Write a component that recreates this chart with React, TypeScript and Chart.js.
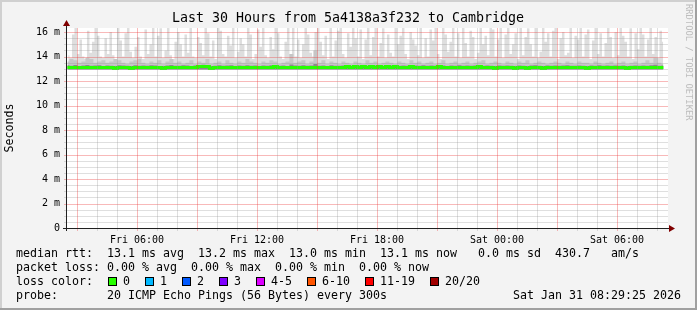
import React, { useEffect, useRef } from 'react';
import { Chart, registerables } from 'chart.js';

Chart.register(...registerables);

const TITLE = 'Last 30 Hours from 5a4138a3f232 to Cambridge';
const Y_AXIS_TITLE = 'Seconds';
const WATERMARK = 'RRDTOOL / TOBI OETIKER';

// time axis (hours since Fri 00:00)
const X_MIN = 2.5;
const X_MAX = 32.5;
const SMOKE_START_HOUR = 2.56;
const SMOKE_STEP_HOURS = 0.125;
const BAND_START_HOUR = 2.52;
const BAND_STEP_HOURS = 0.2;
const X_GRID_HOURS = [3, 4, 5, 6, 7, 8, 9, 10, 11, 12, 13, 14, 15, 16, 17, 18, 19, 20, 21, 22, 23, 24, 25, 26, 27, 28, 29, 30, 31, 32];
const X_MAJOR_EVERY = 3;
const X_LABEL_HOURS = [6, 12, 18, 24, 30];
const X_TICK_LABELS = ['Fri 06:00', 'Fri 12:00', 'Fri 18:00', 'Sat 00:00', 'Sat 06:00'];

// value axis (milliseconds)
const Y_MIN = 0;
const Y_MAX = 16.33;
const Y_MAJOR_VALUES = [0, 2, 4, 6, 8, 10, 12, 14, 16];
const Y_TICK_LABELS = ['0', '2 m', '4 m', '6 m', '8 m', '10 m', '12 m', '14 m', '16 m'];
const Y_MINOR_STEP = 0.5;

const SMOKE_FLOOR = 12.95;

// upper edge of the light smoke (ms), one value per 7.5 minutes
const SMOKE_HIGH = [
  14.1, 13.9, 15.8, 16.5, 14.2, 15.4, 14.0, 13.8, 16.1, 14.3,
  15.2, 16.5, 15.7, 14.0, 13.9, 15.5, 14.2, 16.0, 14.1, 13.8,
  16.5, 15.3, 14.0, 15.9, 16.5, 14.4, 13.9, 14.8, 15.6, 14.0,
  13.8, 16.2, 14.2, 15.0, 16.5, 14.0, 15.7, 16.3, 13.9, 14.5,
  16.5, 14.1, 13.8, 15.2, 16.0, 15.0, 14.0, 15.8, 14.3, 16.5,
  14.0, 13.9, 15.6, 15.1, 14.1, 16.5, 15.9, 14.0, 15.3, 13.8,
  16.5, 16.1, 14.2, 14.0, 15.7, 14.9, 16.5, 13.9, 14.4, 15.5,
  15.0, 14.0, 16.5, 15.8, 13.8, 14.2, 16.2, 14.8, 16.5, 14.1,
  13.9, 15.6, 14.6, 16.5, 15.9, 14.0, 13.8, 15.2, 16.4, 14.2,
  16.5, 14.0, 15.4, 13.9, 15.0, 16.5, 15.8, 14.3, 14.0, 16.0,
  16.5, 15.2, 14.1, 15.7, 13.8, 16.5, 14.0, 15.3, 16.1, 16.5,
  14.2, 13.9, 15.9, 14.8, 16.5, 15.5, 14.0, 16.2, 13.8, 15.4,
  16.5, 14.1, 15.6, 16.5, 14.0, 15.1, 16.3, 13.9, 15.8, 14.3,
  14.0, 16.5, 15.0, 15.7, 16.5, 14.2, 13.8, 16.0, 15.4, 14.9,
  14.1, 16.5, 13.9, 15.5, 14.0, 16.2, 15.3, 16.5, 14.2, 13.8,
  16.4, 15.8, 14.4, 15.2, 16.5, 14.0, 15.9, 13.9, 16.5, 15.1,
  14.0, 16.1, 15.6, 13.8, 14.3, 16.5, 15.0, 15.7, 14.1, 16.5,
  16.2, 14.0, 15.4, 16.5, 13.9, 15.8, 16.5, 14.2, 15.0, 15.9,
  13.8, 16.5, 14.1, 15.6, 16.3, 15.0, 14.0, 16.5, 13.9, 14.4,
  16.5, 15.2, 15.9, 14.0, 16.1, 16.5, 13.8, 15.5, 16.0, 14.1,
  14.3, 16.5, 13.9, 15.7, 15.4, 16.5, 14.0, 15.8, 16.2, 13.8,
  15.3, 16.5, 14.2, 15.9, 14.0, 15.1, 16.5, 15.6, 13.9, 16.0,
  14.1, 16.5, 15.7, 15.2, 14.0, 16.3, 13.8, 15.9, 14.6, 16.5,
  15.8, 14.0, 15.4, 16.5, 14.2, 15.6, 13.9, 16.1, 15.2,
];

// upper edge of the medium smoke (ms), one value per 12 minutes
const SMOKE_MID = [
  13.6, 13.8, 13.7, 13.5, 13.6, 13.9, 13.8, 13.5, 13.6, 13.7,
  13.5, 13.6, 13.8, 13.7, 13.5, 13.4, 13.6, 13.7, 13.8, 13.5,
  13.4, 13.6, 13.5, 13.7, 13.4, 13.6, 13.8, 13.5, 13.6, 13.4,
  13.5, 13.7, 13.4, 13.6, 13.5, 13.8, 13.4, 13.5, 13.6, 13.4,
  13.7, 13.5, 13.4, 13.6, 13.5, 13.8, 13.6, 13.5, 13.4, 13.6,
  13.5, 13.7, 13.6, 13.4, 13.5, 13.6, 14.2, 13.5, 13.6, 13.7,
  13.4, 13.6, 14.5, 13.5, 13.7, 13.4, 13.6, 13.5, 13.4, 13.6,
  13.5, 13.4, 13.6, 13.5, 13.4, 13.7, 13.5, 13.6, 13.4, 13.5,
  13.6, 13.5, 13.4, 13.6, 13.5, 13.4, 13.7, 13.5, 13.6, 13.4,
  13.5, 13.6, 13.4, 13.5, 13.7, 13.4, 13.5, 13.6, 13.4, 13.5,
  13.6, 13.4, 13.5, 13.6, 13.7, 13.4, 13.5, 13.6, 13.5, 13.4,
  13.6, 13.5, 13.4, 13.6, 13.5, 13.7, 13.4, 13.5, 13.6, 13.5,
  13.4, 13.5, 13.6, 13.5, 13.4, 13.6, 13.5, 13.4, 13.6, 13.5,
  13.5, 13.4, 13.6, 13.5, 13.4, 13.5, 13.6, 13.4, 13.5, 13.6,
  13.4, 13.5, 13.6, 13.4, 13.5, 13.7, 13.5, 13.9, 13.5, 13.4,
];

const SMOKE_DARK = [
  13.28, 13.25, 13.3, 13.22, 13.27, 13.3, 13.24, 13.26, 13.29, 13.23,
  13.27, 13.25, 13.22, 13.28, 13.26, 13.24, 13.22, 13.29, 13.25, 13.27,
  13.24, 13.28, 13.26, 13.23, 13.22, 13.27, 13.3, 13.25, 13.24, 13.28,
  13.26, 13.23, 13.27, 13.3, 13.32, 13.3, 13.22, 13.25, 13.28, 13.24,
  13.26, 13.29, 13.23, 13.27, 13.25, 13.28, 13.24, 13.26, 13.22, 13.27,
  13.25, 13.28, 13.31, 13.24, 13.26, 13.23, 13.35, 13.27, 13.25, 13.28,
  13.24, 13.26, 13.4, 13.25, 13.27, 13.23, 13.28, 13.25, 13.24, 13.26,
  13.31, 13.25, 13.3, 13.27, 13.31, 13.25, 13.3, 13.26, 13.31, 13.24,
  13.3, 13.26, 13.31, 13.25, 13.27, 13.24, 13.3, 13.26, 13.25, 13.28,
  13.24, 13.27, 13.25, 13.3, 13.26, 13.23, 13.27, 13.25, 13.28, 13.24,
  13.26, 13.25, 13.27, 13.3, 13.24, 13.26, 13.25, 13.22, 13.27, 13.25,
  13.26, 13.24, 13.22, 13.27, 13.25, 13.22, 13.26, 13.28, 13.24, 13.22,
  13.26, 13.25, 13.27, 13.24, 13.26, 13.28, 13.25, 13.24, 13.27, 13.25,
  13.22, 13.26, 13.25, 13.28, 13.24, 13.26, 13.25, 13.27, 13.24, 13.26,
  13.22, 13.25, 13.27, 13.24, 13.26, 13.25, 13.28, 13.33, 13.25, 13.26,
];

const MEDIAN = [
  13.1, 13.1, 13.1, 13.1, 13.1, 13.1, 13.1, 13.1, 13.1, 13.1,
  13.1, 13.1, 13.02, 13.1, 13.1, 13.1, 13.02, 13.1, 13.1, 13.1,
  13.1, 13.1, 13.1, 13.1, 13.02, 13.1, 13.1, 13.1, 13.1, 13.1,
  13.1, 13.1, 13.1, 13.18, 13.18, 13.18, 13.02, 13.1, 13.1, 13.1,
  13.1, 13.1, 13.1, 13.1, 13.1, 13.1, 13.1, 13.1, 13.1, 13.1,
  13.1, 13.1, 13.18, 13.1, 13.1, 13.1, 13.1, 13.1, 13.1, 13.1,
  13.1, 13.1, 13.1, 13.1, 13.1, 13.1, 13.1, 13.1, 13.1, 13.1,
  13.18, 13.1, 13.18, 13.1, 13.18, 13.1, 13.18, 13.1, 13.18, 13.1,
  13.18, 13.1, 13.18, 13.1, 13.1, 13.1, 13.18, 13.1, 13.1, 13.1,
  13.1, 13.1, 13.1, 13.18, 13.1, 13.1, 13.1, 13.1, 13.1, 13.1,
  13.1, 13.1, 13.1, 13.18, 13.1, 13.1, 13.1, 13.02, 13.1, 13.1,
  13.1, 13.1, 13.02, 13.1, 13.1, 13.02, 13.1, 13.1, 13.1, 13.02,
  13.1, 13.1, 13.1, 13.1, 13.1, 13.1, 13.1, 13.1, 13.1, 13.1,
  13.02, 13.1, 13.1, 13.1, 13.1, 13.1, 13.1, 13.1, 13.1, 13.1,
  13.02, 13.1, 13.1, 13.1, 13.1, 13.1, 13.1, 13.1, 13.1, 13.1,
];

// legend
const RTT_LABEL = 'median rtt:';
const RTT_STATS = ['13.1 ms avg', '13.2 ms max', '13.0 ms min', '13.1 ms now', '0.0 ms sd', '430.7', 'am/s'];
const LOSS_LABEL = 'packet loss:';
const LOSS_STATS = ['0.00 % avg', '0.00 % max', '0.00 % min', '0.00 % now'];
const LOSS_COLOR_LABEL = 'loss color:';
const LOSS_LABELS = ['0', '1', '2', '3', '4-5', '6-10', '11-19', '20/20'];
const LOSS_COLORS = ['#26ff00', '#00b8ff', '#0059ff', '#7e00ff', '#dd00ff', '#ff5500', '#ff0000', '#a10000'];
const PROBE_LABEL = 'probe:';
const PROBE_TEXT = '20 ICMP Echo Pings (56 Bytes) every 300s';
const DATE_TEXT = 'Sat Jan 31 08:29:25 2026';

const MONO = '"DejaVu Sans Mono", monospace';
const GRID = 'rgba(150,150,150,0.3)';
const MGRID = 'rgba(235,60,60,0.36)';

function toPoints(values: number[], start: number, step: number) {
  return values.map((v, i) => ({ x: start + i * step, y: v }));
}

function yGridValues() {
  const t: number[] = [];
  const top = Y_MAJOR_VALUES[Y_MAJOR_VALUES.length - 1];
  for (let v = Y_MIN; v <= top + 1e-9; v += Y_MINOR_STEP) t.push(v);
  return t;
}

const decorPlugin = {
  id: 'decor',
  beforeDraw(chart: any) {
    const ctx = chart.ctx;
    const W = chart.width;
    const H = chart.height;
    const a = chart.chartArea;
    const L = Math.round(a.left), R = Math.round(a.right), T = Math.round(a.top), B = Math.round(a.bottom);
    ctx.save();
    ctx.fillStyle = '#f3f3f3';
    ctx.fillRect(0, 0, W, H);
    ctx.fillStyle = '#d0d0d0';
    ctx.fillRect(0, 0, W, 2);
    ctx.fillRect(0, 0, 2, H);
    ctx.fillStyle = '#a0a0a0';
    ctx.fillRect(0, H - 2, W, 2);
    ctx.fillRect(W - 2, 0, 2, H);
    ctx.fillStyle = '#ffffff';
    ctx.fillRect(L, T, R - L + 1, B - T);
    ctx.restore();
  },
  afterDatasetsDraw(chart: any) {
    // grid on top of the smoke, positioned through the chart's scales
    const ctx = chart.ctx;
    const a = chart.chartArea;
    const L = Math.round(a.left), R = Math.round(a.right), T = Math.round(a.top), B = Math.round(a.bottom);
    const xs = chart.scales.x;
    const ys = chart.scales.y;
    ctx.save();
    yGridValues().forEach((v) => {
      if (v === Y_MIN) return;
      const row = Math.round(ys.getPixelForValue(v));
      ctx.fillStyle = Y_MAJOR_VALUES.includes(v) ? MGRID : GRID;
      ctx.fillRect(L, row, R - L + 1, 1);
      ctx.fillRect(L - 3, row, 2, 1);
    });
    X_GRID_HOURS.forEach((h) => {
      const col = Math.round(xs.getPixelForValue(h));
      ctx.fillStyle = h % X_MAJOR_EVERY === 0 ? MGRID : GRID;
      ctx.fillRect(col, T, 1, B - T);
      ctx.fillRect(col, B + 1, 1, 2);
    });
    ctx.restore();
  },
  afterDraw(chart: any) {
    const ctx = chart.ctx;
    const a = chart.chartArea;
    const L = Math.round(a.left), R = Math.round(a.right), T = Math.round(a.top), B = Math.round(a.bottom);
    ctx.save();
    // axes
    ctx.fillStyle = '#202020';
    ctx.fillRect(L - 1, T - 4, 1, B - T + 7);
    ctx.fillRect(L - 4, B, R - L + 8, 1);
    // arrows
    ctx.fillStyle = '#800000';
    ctx.beginPath();
    ctx.moveTo(L - 0.5, T - 8);
    ctx.lineTo(L - 4, T - 2);
    ctx.lineTo(L + 3, T - 2);
    ctx.closePath();
    ctx.fill();
    ctx.beginPath();
    ctx.moveTo(R + 8, B + 0.5);
    ctx.lineTo(R + 2, B - 3);
    ctx.lineTo(R + 2, B + 4);
    ctx.closePath();
    ctx.fill();

    // title
    ctx.fillStyle = '#000';
    ctx.font = `13.3px ${MONO}`;
    ctx.textAlign = 'center';
    ctx.textBaseline = 'middle';
    ctx.fillText(TITLE, 348, 19);

    // watermark
    ctx.save();
    ctx.translate(688, 4);
    ctx.rotate(Math.PI / 2);
    ctx.font = `8.8px ${MONO}`;
    ctx.fillStyle = '#bdbdbd';
    ctx.textAlign = 'left';
    ctx.textBaseline = 'middle';
    ctx.fillText(WATERMARK, 0, 0);
    ctx.restore();

    // legend
    const CW = 7;
    const X0 = 16;
    const rttX = [107, 198, 289, 380, 478, 555, 611];
    const lossX = [107, 191, 275, 359];
    ctx.font = `11.63px ${MONO}`;
    ctx.textAlign = 'left';
    ctx.textBaseline = 'middle';
    ctx.fillStyle = '#000';
    ctx.fillText(RTT_LABEL, X0, 254);
    RTT_STATS.forEach((s, i) => ctx.fillText(s, rttX[i], 254));
    ctx.fillText(LOSS_LABEL, X0, 268);
    LOSS_STATS.forEach((s, i) => ctx.fillText(s, lossX[i], 268));
    ctx.fillText(LOSS_COLOR_LABEL, X0, 282);
    let x = 108;
    LOSS_LABELS.forEach((lab, i) => {
      ctx.fillStyle = LOSS_COLORS[i];
      ctx.fillRect(x, 277, 9, 9);
      ctx.strokeStyle = '#000';
      ctx.strokeRect(x + 0.5, 277.5, 8, 8);
      ctx.fillStyle = '#000';
      ctx.fillText(lab, x + 15, 282);
      x = x + 15 + lab.length * CW + 15;
    });
    ctx.fillText(PROBE_LABEL, X0, 296);
    ctx.fillText(PROBE_TEXT, 107, 296);
    ctx.textAlign = 'right';
    ctx.fillText(DATE_TEXT, 681, 296);
    ctx.restore();
  },
};

export default function App() {
  const ref = useRef<HTMLCanvasElement | null>(null);

  useEffect(() => {
    document.body.style.margin = '0';
    const canvas = ref.current;
    if (!canvas) return;
    Chart.defaults.font.family = MONO;

    const smoke = (label: string, values: number[], start: number, step: number, color: string, order: number) => ({
      label,
      data: toPoints(values, start, step),
      borderWidth: 0,
      borderColor: 'transparent',
      pointRadius: 0,
      stepped: 'middle' as const,
      backgroundColor: color,
      fill: { value: SMOKE_FLOOR },
      order,
    });

    const chart = new Chart(canvas, {
      type: 'line',
      data: {
        datasets: [
          {
            label: 'median',
            data: toPoints(MEDIAN, BAND_START_HOUR, BAND_STEP_HOURS),
            borderColor: '#26ff00',
            borderWidth: 3,
            pointRadius: 0,
            stepped: 'middle',
            fill: false,
            order: 0,
          },
          smoke('smoke dark', SMOKE_DARK, BAND_START_HOUR, BAND_STEP_HOURS, '#8a8a8a', 1),
          smoke('smoke mid', SMOKE_MID, BAND_START_HOUR, BAND_STEP_HOURS, '#c6c6c6', 2),
          smoke('smoke high', SMOKE_HIGH, SMOKE_START_HOUR, SMOKE_STEP_HOURS, '#dedede', 3),
        ],
      },
      options: {
        responsive: false,
        animation: false,
        devicePixelRatio: 1,
        layout: { padding: { left: 0, right: 30, top: 28, bottom: 0 } },
        plugins: {
          legend: { display: false },
          tooltip: { enabled: false },
          title: { display: false },
        },
        scales: {
          x: {
            type: 'linear',
            min: X_MIN,
            max: X_MAX,
            afterFit: (s: any) => { s.height = 82; },
            afterBuildTicks: (s: any) => { s.ticks = X_GRID_HOURS.map((h) => ({ value: h })); },
            grid: { display: false, tickLength: 2 },
            border: { display: false },
            ticks: {
              autoSkip: false,
              maxRotation: 0,
              padding: 4,
              color: '#000',
              font: { family: MONO, size: 10 },
              callback: (v: any) => {
                const k = X_LABEL_HOURS.indexOf(Number(v));
                return k >= 0 ? X_TICK_LABELS[k] : '';
              },
            },
          },
          y: {
            type: 'linear',
            min: Y_MIN,
            max: Y_MAX,
            afterFit: (s: any) => { s.width = 67; },
            afterBuildTicks: (s: any) => { s.ticks = yGridValues().map((v) => ({ value: v })); },
            grid: { display: false, tickLength: 2 },
            border: { display: false },
            title: {
              display: true,
              text: Y_AXIS_TITLE,
              color: '#000',
              font: { family: MONO, size: 11.6 },
              padding: { top: 3, bottom: 0 },
            },
            ticks: {
              autoSkip: false,
              padding: 5,
              color: '#000',
              font: { family: MONO, size: 10 },
              callback: (v: any) => {
                const k = Y_MAJOR_VALUES.indexOf(Number(v));
                return k >= 0 ? Y_TICK_LABELS[k] : '';
              },
            },
          },
        },
      },
      plugins: [decorPlugin],
    });
    return () => chart.destroy();
  }, []);

  return <canvas ref={ref} width={697} height={310} style={{ display: 'block' }} />;
}
